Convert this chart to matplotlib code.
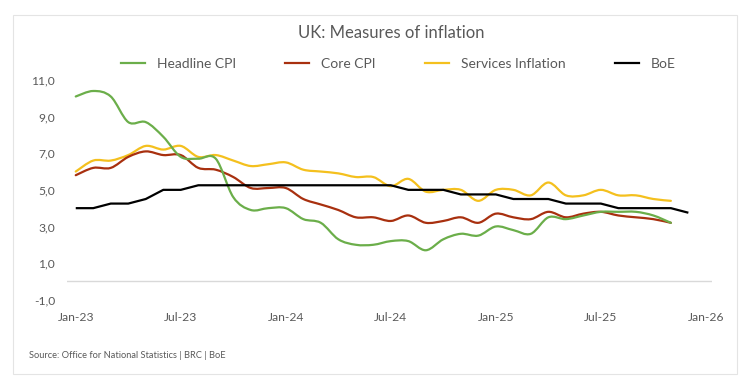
import numpy as np
import matplotlib
matplotlib.use("Agg")
import matplotlib.pyplot as plt
from matplotlib.path import Path
from matplotlib.patches import PathPatch, Rectangle
from matplotlib.lines import Line2D
from matplotlib.ticker import FuncFormatter

plt.rcParams['font.family'] = ['Lato', 'DejaVu Sans']

# Months since Jan-23 (0 = Jan-23)
headline_cpi = [10.1, 10.4, 10.1, 8.7, 8.7, 7.9, 6.8, 6.7, 6.7, 4.6, 3.9, 4.0,
                4.0, 3.4, 3.2, 2.3, 2.0, 2.0, 2.2, 2.2, 1.7, 2.3, 2.6, 2.5,
                3.0, 2.8, 2.6, 3.5, 3.4, 3.6, 3.8, 3.8, 3.8, 3.6, 3.2]
core_cpi = [5.8, 6.2, 6.2, 6.8, 7.1, 6.9, 6.9, 6.2, 6.1, 5.7, 5.1, 5.1,
            5.1, 4.5, 4.2, 3.9, 3.5, 3.5, 3.3, 3.6, 3.2, 3.3, 3.5, 3.2,
            3.7, 3.5, 3.4, 3.8, 3.5, 3.7, 3.8, 3.6, 3.5, 3.4, 3.2]
services = [6.0, 6.6, 6.6, 6.9, 7.4, 7.2, 7.4, 6.8, 6.9, 6.6, 6.3, 6.4,
            6.5, 6.1, 6.0, 5.9, 5.7, 5.7, 5.2, 5.6, 4.9, 5.0, 5.0, 4.4,
            5.0, 5.0, 4.7, 5.4, 4.7, 4.7, 5.0, 4.7, 4.7, 4.5, 4.4]
boe = [4.0, 4.0, 4.25, 4.25, 4.5, 5.0, 5.0, 5.25, 5.25, 5.25, 5.25, 5.25,
       5.25, 5.25, 5.25, 5.25, 5.25, 5.25, 5.25, 5.0, 5.0, 5.0, 4.75, 4.75,
       4.75, 4.5, 4.5, 4.5, 4.25, 4.25, 4.25, 4.0, 4.0, 4.0, 4.0, 3.75]
x_tick_labels = ['Jan-23', 'Jul-23', 'Jan-24', 'Jul-24', 'Jan-25', 'Jul-25', 'Jan-26']
y_ticks = [-1, 1, 3, 5, 7, 9, 11]

W, H = 753, 392
fig = plt.figure(figsize=(W / 100, H / 100), dpi=100)
fig.patch.set_facecolor('white')

def fx(px):
    return px / W

def fy(py):
    return 1 - py / H

ax = fig.add_axes([fx(67), fy(299.7), fx(712) - fx(67), fy(80) - fy(299.7)])
ax.set_xlim(-0.5, 36.35)
ax.set_ylim(-1, 11)
for s in ax.spines.values():
    s.set_visible(False)
ax.axhline(0, color='#D9D9D9', lw=1.0, zorder=1)

def smooth_path(yvals):
    y = np.asarray(yvals, dtype=float)
    x = np.arange(len(y), dtype=float)
    pts = np.column_stack([x, y])
    verts = [pts[0]]
    codes = [Path.MOVETO]
    n = len(pts)
    for i in range(n - 1):
        p0 = pts[i - 1] if i > 0 else pts[i]
        p1 = pts[i]
        p2 = pts[i + 1]
        p3 = pts[i + 2] if i + 2 < n else pts[i + 1]
        c1 = p1 + (p2 - p0) / 6.0
        c2 = p2 - (p3 - p1) / 6.0
        verts += [c1, c2, p2]
        codes += [Path.CURVE4] * 3
    return Path(verts, codes)

colors = {'Headline CPI': '#6BAE4A', 'Core CPI': '#A8300F',
          'Services Inflation': '#F4C01E', 'BoE': '#000000'}

for name, data in [('Services Inflation', services), ('Core CPI', core_cpi),
                   ('Headline CPI', headline_cpi)]:
    ax.add_patch(PathPatch(smooth_path(data), fill=False, edgecolor=colors[name],
                           lw=1.6, capstyle='round', joinstyle='round', zorder=3))
ax.plot(np.arange(len(boe)), boe, color=colors['BoE'], lw=1.6, zorder=4,
        solid_capstyle='butt')

ax.set_yticks(y_ticks)
ax.yaxis.set_major_formatter(FuncFormatter(lambda v, p: f"{v:.1f}".replace('.', ',')))
ax.set_xticks(np.arange(0, 37, 6))
ax.set_xticklabels(x_tick_labels)
ax.tick_params(axis='both', length=0, labelsize=8.7, labelcolor='#595959')
ax.tick_params(axis='y', pad=8.5)
ax.tick_params(axis='x', pad=9)

fig.text(fx(391), fy(33), 'UK: Measures of inflation', ha='center', va='center',
         fontsize=12, color='#595959')

handles = [Line2D([], [], color=colors[k], lw=1.6) for k in colors]
leg = fig.legend(handles, list(colors.keys()), loc='center left',
                 bbox_to_anchor=(fx(121), fy(64)), ncol=4, frameon=False,
                 fontsize=10, handlelength=1.73, handletextpad=0.86,
                 columnspacing=3.55, borderpad=0, borderaxespad=0)
for t in leg.get_texts():
    t.set_color('#595959')

fig.text(fx(29), fy(356), 'Source: Office for National Statistics | BRC | BoE',
         ha='left', va='center', fontsize=6.7, color='#595959')

fig.patches.append(Rectangle((fx(13), fy(374)), fx(737) - fx(13), fy(15) - fy(374),
                             transform=fig.transFigure, fill=False,
                             edgecolor='#E4E4E4', lw=0.8))

fig.savefig('out.png', dpi=100, facecolor='white')
